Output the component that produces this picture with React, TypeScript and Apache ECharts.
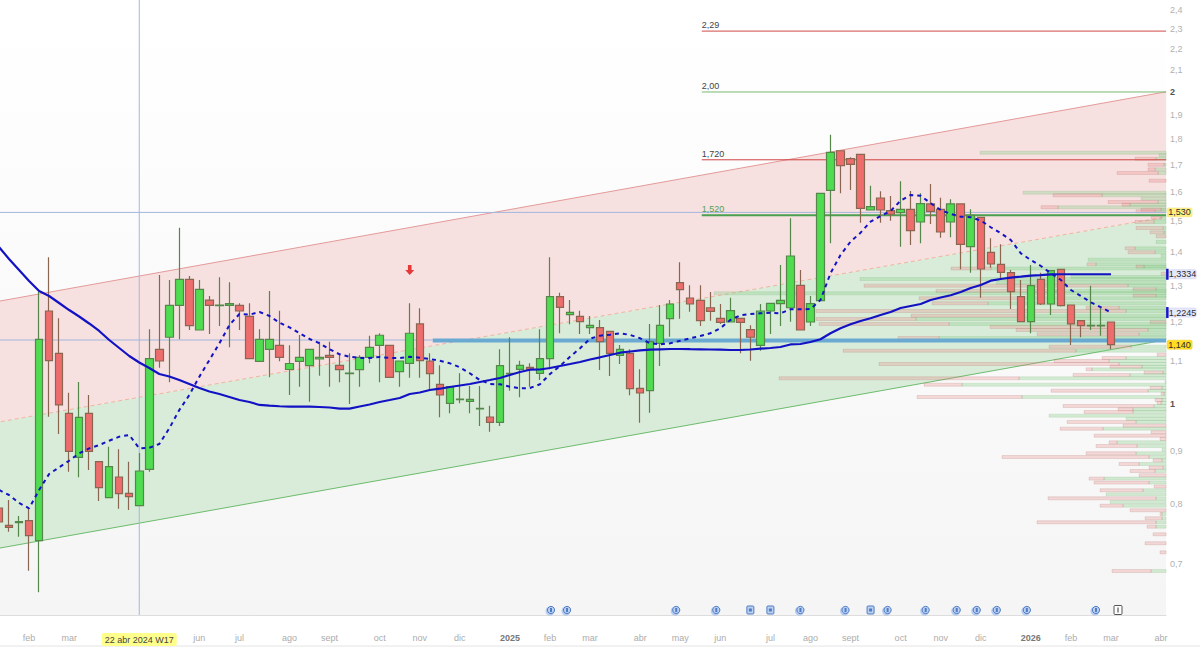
import React, { useEffect, useRef } from "react";
import * as echarts from "echarts";

const FONT = '"Liberation Sans", Arial, sans-serif';

// weekly sessions, Monday dates, starting 15 Jan 2024
const firstWeek = Date.UTC(2024, 0, 15);
const weekCount = 117;
const categories = Array.from({ length: weekCount }, (_, i) =>
  new Date(firstWeek + i * 7 * 86400000).toISOString().slice(0, 10)
);

const xTickIndex = [3, 7, 14, 20, 24, 29, 33, 38, 42, 46, 51, 55, 59, 64, 68, 72, 77, 81, 85, 90, 94, 98, 103, 107, 111, 116];
const xTickText = ["feb", "mar", "22 abr 2024 W17", "jun", "jul", "ago", "sept", "oct", "nov", "dic", "2025", "feb", "mar", "abr", "may", "jun", "jul", "ago", "sept", "oct", "nov", "dic", "2026", "feb", "mar", "abr"];

const yTicks = [2.4, 2.3, 2.2, 2.1, 2, 1.9, 1.8, 1.7, 1.6, 1.5, 1.4, 1.3, 1.2, 1.1, 1, 0.9, 0.8, 0.7];

// [open, close, low, high]
const candles = [
  [0.7928, 0.7685, 0.7549, 0.8161], [0.7629, 0.7595, 0.7521, 0.807], [0.7673, 0.769, 0.7438, 0.7789], [0.7707, 0.7454, 0.6895, 0.7928],
  [0.7372, 1.1538, 0.6572, 1.2827], [1.2287, 1.1001, 0.9714, 1.3846], [1.1184, 0.997, 0.9347, 1.209], [0.9787, 0.8993, 0.8595, 1.0246],
  [0.8874, 0.97, 0.8488, 1.0493], [0.9787, 0.8993, 0.8627, 1.0194], [0.8788, 0.8295, 0.8052, 0.8788], [0.8112, 0.8691, 0.8112, 0.9086],
  [0.8494, 0.8185, 0.7916, 0.9033], [0.8192, 0.813, 0.7893, 0.8788], [0.7969, 0.8608, 0.7969, 0.896], [0.864, 1.105, 0.8595, 1.1798],
  [1.1284, 1.0994, 1.0832, 1.3312], [1.159, 1.2444, 1.0486, 1.3164], [1.2444, 1.3185, 1.1538, 1.4789], [1.3185, 1.1893, 1.1779, 1.3282],
  [1.1779, 1.2895, 1.1779, 1.3164], [1.2591, 1.2444, 1.1675, 1.2705], [1.2434, 1.2453, 1.1885, 1.3244], [1.2444, 1.2488, 1.1335, 1.3098],
  [1.2444, 1.2287, 1.1779, 1.25], [1.2144, 1.105, 1.105, 1.25], [1.0987, 1.1538, 1.0987, 1.1798], [1.1284, 1.1538, 1.0603, 1.2847],
  [1.1385, 1.1085, 1.0987, 1.2295], [1.0788, 1.0933, 1.0194, 1.1385], [1.0987, 1.1085, 1.0384, 1.165], [1.088, 1.1284, 1.0042, 1.1284],
  [1.1043, 1.1085, 1.0641, 1.1477], [1.1134, 1.1085, 1.0384, 1.1477], [1.089, 1.0783, 1.0486, 1.1142], [1.0688, 1.0705, 0.9992, 1.1184],
  [1.0783, 1.1085, 1.0384, 1.1135], [1.1085, 1.1335, 1.0938, 1.1632], [1.1385, 1.1642, 1.0486, 1.1694], [1.1385, 1.0603, 1.0603, 1.1385],
  [1.0736, 1.0994, 1.0384, 1.0994], [1.0938, 1.1694, 1.0594, 1.25], [1.1938, 1.1001, 1.0594, 1.2361], [1.0994, 1.0688, 1.0307, 1.1184],
  [1.0439, 1.0194, 0.97, 1.089], [1.0007, 1.0384, 0.9787, 1.0384], [1.0087, 1.0103, 1.0007, 1.0698], [1.0051, 1.0096, 0.9787, 1.04],
  [0.9881, 0.9897, 0.9515, 1.04], [0.9707, 0.9593, 0.9395, 0.9954], [0.9593, 1.088, 0.9515, 1.1284], [1.0681, 1.0698, 1.0291, 1.159],
  [1.0793, 1.089, 1.0141, 1.1001], [1.0841, 1.0793, 1.0384, 1.0938], [1.0698, 1.105, 1.0539, 1.1798], [1.105, 1.2685, 1.0793, 1.3846],
  [1.2685, 1.2389, 1.1694, 1.2798], [1.2187, 1.2252, 1.193, 1.2591], [1.2144, 1.1999, 1.1675, 1.2295], [1.184, 1.1903, 1.1675, 1.2152],
  [1.184, 1.1477, 1.0776, 1.2044], [1.1745, 1.1184, 1.0634, 1.1745], [1.1134, 1.1284, 1.0921, 1.1393], [1.1184, 1.0337, 1.0186, 1.1284],
  [1.0346, 1.0239, 0.9585, 1.0793], [1.0291, 1.1477, 0.98, 1.1938], [1.1436, 1.1903, 1.0873, 1.2453], [1.2079, 1.248, 1.1605, 1.2591],
  [1.3086, 1.2884, 1.2079, 1.3693], [1.2648, 1.248, 1.2268, 1.3011], [1.2583, 1.2025, 1.1885, 1.3011], [1.2377, 1.2279, 1.2025, 1.2818],
  [1.209, 1.1983, 1.1938, 1.248], [1.1991, 1.2295, 1.1991, 1.2657], [1.209, 1.1983, 1.1184, 1.209], [1.1787, 1.159, 1.1001, 1.1903],
  [1.1385, 1.2287, 1.1249, 1.248], [1.2287, 1.25, 1.1675, 1.25], [1.2488, 1.2583, 1.1885, 1.3612], [1.2377, 1.3887, 1.1999, 1.5101],
  [1.3011, 1.1779, 1.1779, 1.346], [1.1991, 1.2488, 1.1885, 1.2705], [1.2572, 1.5965, 1.2572, 1.5965], [1.6071, 1.7488, 1.4284, 1.8187],
  [1.755, 1.6976, 1.5965, 1.755], [1.7241, 1.7028, 1.6082, 1.7295], [1.7411, 1.5441, 1.4955, 1.7411], [1.5382, 1.5496, 1.5382, 1.6237],
  [1.5799, 1.5382, 1.4955, 1.6036], [1.5358, 1.5237, 1.5021, 1.587], [1.5291, 1.5406, 1.4176, 1.6396], [1.5406, 1.469, 1.423, 1.6047],
  [1.4978, 1.56, 1.4284, 1.5965], [1.559, 1.5338, 1.4912, 1.6299], [1.5406, 1.4648, 1.4463, 1.5809], [1.4978, 1.559, 1.4476, 1.5753],
  [1.559, 1.4253, 1.3481, 1.559], [1.4176, 1.5203, 1.338, 1.5406], [1.5135, 1.349, 1.2656, 1.5135], [1.4, 1.3642, 1.353, 1.4444],
  [1.3633, 1.3392, 1.3214, 1.4253], [1.338, 1.2827, 1.2342, 1.346], [1.2685, 1.1999, 1.1999, 1.3164], [1.1999, 1.3, 1.1694, 1.3612],
  [1.3185, 1.248, 1.2453, 1.338], [1.248, 1.3439, 1.2179, 1.3439], [1.3481, 1.2434, 1.2411, 1.3481], [1.2453, 1.1938, 1.1393, 1.2453],
  [1.2025, 1.1893, 1.159, 1.2025], [1.189, 1.1903, 1.1779, 1.3], [1.189, 1.1903, 1.1632, 1.2361], [1.1991, 1.14, 1.1284, 1.1991],
];

const slowAverage = [
  1.4167, 1.3794, 1.346, 1.3135, 1.2847, 1.2705, 1.2508, 1.2314, 1.2138, 1.1951, 1.1753, 1.152, 1.1317, 1.1117, 1.0957, 1.0824,
  1.0681, 1.0622, 1.0539, 1.0446, 1.0353, 1.0273, 1.0216, 1.0148, 1.008, 1.0036, 0.997, 0.9954, 0.9941, 0.9932, 0.9932, 0.9932,
  0.9925, 0.9914, 0.9888, 0.9888, 0.9936, 0.998, 1.0036, 1.008, 1.0125, 1.0216, 1.025, 1.0307, 1.0337, 1.0377, 1.0411, 1.0446,
  1.0493, 1.0539, 1.0586, 1.0658, 1.0728, 1.0783, 1.0788, 1.0824, 1.0873, 1.0921, 1.097, 1.103, 1.1085, 1.1142, 1.1199, 1.1229,
  1.1259, 1.1274, 1.1284, 1.1291, 1.1291, 1.1286, 1.1284, 1.1279, 1.1274, 1.1266, 1.1266, 1.1279, 1.1299, 1.1317, 1.1342, 1.1406,
  1.1418, 1.1469, 1.1538, 1.1694, 1.1824, 1.193, 1.2018, 1.209, 1.2179, 1.226, 1.2369, 1.2425, 1.248, 1.2591, 1.2662, 1.2725,
  1.2818, 1.2933, 1.302, 1.3144, 1.3194, 1.3233, 1.3263, 1.3294, 1.3306, 1.333, 1.3334, 1.3334, 1.3334, 1.3334, 1.3334, 1.3334,
];

const fastAverage = [
  0.8252, 0.8161, 0.8017, 0.7923, 0.8252, 0.8551, 0.8679, 0.8807, 0.8954, 0.9053, 0.912, 0.9208, 0.9291, 0.9326, 0.9053, 0.9065,
  0.9141, 0.9466, 0.9859, 1.0194, 1.0617, 1.1018, 1.1436, 1.1911, 1.2206, 1.2187, 1.226, 1.2152, 1.1972, 1.185, 1.1694, 1.1546,
  1.1436, 1.1284, 1.1159, 1.11, 1.1068, 1.1068, 1.1092, 1.1068, 1.1068, 1.11, 1.1075, 1.1043, 1.1001, 1.0938, 1.0841, 1.0698,
  1.0539, 1.0446, 1.0439, 1.0384, 1.0346, 1.0353, 1.0439, 1.0681, 1.0873, 1.11, 1.1309, 1.1553, 1.1632, 1.1658, 1.1694, 1.165,
  1.1564, 1.1436, 1.141, 1.1436, 1.1502, 1.1564, 1.1624, 1.1694, 1.1824, 1.2044, 1.2171, 1.2206, 1.2225, 1.2241, 1.2225, 1.2333,
  1.2333, 1.2342, 1.2591, 1.3362, 1.3917, 1.4335, 1.4625, 1.4988, 1.5179, 1.5348, 1.5704, 1.5905, 1.588, 1.5614, 1.5382, 1.5247,
  1.5156, 1.5135, 1.5028, 1.4803, 1.4608, 1.4389, 1.3969, 1.3763, 1.3581, 1.3362, 1.3164, 1.2875, 1.2705, 1.2527, 1.2389, 1.2245,
];

// regression channel, values at the two ends of the time range
const channelWeeks = [0, 116];
const channelTop = [1.2558, 1.9968];
const channelMid = [0.96, 1.5122];
const channelBottom = [0.725, 1.1502];

const levelPrices = [2.29, 2, 1.72, 1.52];
const levelTexts = ["2,29", "2,00", "1,720", "1,520"];
const levelStart = 70;
const supportPrice = 1.1507;
const supportStart = 43;
const cursorPrices = [1.53, 1.152];
const cursorWeek = 14;

const tagPrices = [1.53, 1.3334, 1.2245, 1.14];
const tagTexts = ["1,530", "1,3334", "1,2245", "1,140"];

// volume at price: price, sell part, buy part
const profilePrices = [
  1.7473, 1.7373, 1.7241, 1.7011, 1.6839, 1.6702, 1.6418, 1.5986, 1.5894, 1.5774, 1.5659, 1.5566, 1.5477, 1.5392, 1.5338, 1.5112,
  1.4978, 1.4779, 1.4638, 1.4509, 1.4326, 1.4126, 1.4001, 1.3887, 1.3772, 1.3633, 1.3562, 1.3505, 1.335, 1.3253, 1.3194, 1.3086,
  1.3, 1.2895, 1.2847, 1.2781, 1.2713, 1.264, 1.25, 1.2377, 1.2287, 1.216, 1.2071, 1.1983, 1.1938, 1.1859, 1.1779, 1.1668,
  1.1572, 1.135, 1.1249, 1.115, 1.1068, 1.0994, 1.0921, 1.0856, 1.0793, 1.0713, 1.0658, 1.0579, 1.05, 1.043, 1.0353, 1.0291,
  1.0223, 1.0148, 1.008, 1.0013, 0.9947, 0.9874, 0.9816, 0.9735, 0.9664, 0.96, 0.9521, 0.9458, 0.9382, 0.9312, 0.9243, 0.9175,
  0.91, 0.9025, 0.8954, 0.888, 0.8815, 0.8743, 0.8672, 0.8608, 0.8527, 0.8464, 0.8389, 0.8315, 0.8247, 0.8174, 0.8101, 0.8034,
  0.7969, 0.7888, 0.7823, 0.7749, 0.768, 0.7605, 0.7478, 0.733, 0.7184, 0.6891,
];
const profileSell = [
  0, 0, 21, 16, 7, 41, 17, 0, 49, 0, 50, 8, 17, 20, 19, 10,
  19, 27, 14, 10, 0, 10, 27, 0, 0, 9, 8, 40, 5, 0, 0, 0,
  264, 23, 120, 0, 23, 100, 56, 33, 310, 110, 100, 16, 130, 120, 132, 102,
  41, 82, 233, 9, 24, 55, 240, 32, 6, 19, 57, 240, 0, 38, 12, 97,
  3, 105, 7, 4, 91, 15, 49, 0, 0, 69, 43, 43, 15, 72, 6, 8,
  41, 0, 50, 147, 9, 20, 14, 25, 27, 15, 55, 12, 43, 0, 108, 0,
  23, 36, 2, 17, 119, 9, 13, 21, 6, 39,
];
const profileBuy = [
  186, 7, 10, 2, 11, 8, 0, 143, 64, 25, 8, 36, 108, 5, 11, 5,
  12, 3, 2, 0, 10, 31, 11, 5, 78, 70, 22, 175, 0, 95, 306, 170,
  38, 10, 110, 452, 10, 147, 178, 47, 40, 145, 250, 0, 217, 56, 18, 27,
  227, 35, 90, 0, 40, 57, 47, 24, 74, 3, 36, 147, 1, 204, 4, 18,
  2, 144, 4, 5, 12, 33, 33, 117, 40, 30, 0, 63, 0, 0, 0, 49,
  29, 4, 30, 17, 4, 27, 3, 11, 0, 62, 17, 0, 23, 60, 10, 56,
  43, 0, 4, 4, 10, 10, 0, 0, 0, 15,
];

const eventWeeks = [55.1, 56.7, 67.6, 71.6, 75, 77, 80, 84.5, 87, 88.7, 92.5, 95.6, 97.6, 99.6, 102.6, 109.5];
const squareEvents = [75, 77, 87];
const infoWeek = 111.7;
const eventPrice = 0.6319;
const arrowWeek = 41;
const arrowPrice = 1.346;

const yMin = 0.6249;
const yMax = 2.454;
const gridLeft = -6;
const gridWidth = 1172.1;

function extrapolated(api: any, params: any, values: number[]) {
  const a = api.coord([channelWeeks[0], values[0]]);
  const b = api.coord([channelWeeks[1], values[1]]);
  const slope = (b[1] - a[1]) / (b[0] - a[0]);
  const l = params.coordSys.x;
  const r = l + params.coordSys.width;
  return [
    [l, a[1] + (l - a[0]) * slope],
    [r, a[1] + (r - a[0]) * slope],
  ];
}

export default function App() {
  const ref = useRef<HTMLDivElement>(null);

  useEffect(() => {
    document.body.style.margin = "0";
    const chart = echarts.init(ref.current!, null, { renderer: "svg" });

    const channelSeries = {
      type: "custom",
      z: 1,
      silent: true,
      xAxisIndex: 0,
      yAxisIndex: 0,
      data: [[channelWeeks[0], channelMid[0]]],
      renderItem: (params: any, api: any) => {
        const t = extrapolated(api, params, channelTop);
        const m = extrapolated(api, params, channelMid);
        const b = extrapolated(api, params, channelBottom);
        const seg = (p: number[][], stroke: string, dash?: number[]) => ({
          type: "line",
          shape: { x1: p[0][0], y1: p[0][1], x2: p[1][0], y2: p[1][1] },
          style: { stroke, lineWidth: 1, lineDash: dash },
        });
        return {
          type: "group",
          children: [
            { type: "polygon", shape: { points: [t[0], t[1], m[1], m[0]] }, style: { fill: "#f7e0e0" } },
            { type: "polygon", shape: { points: [m[0], m[1], b[1], b[0]] }, style: { fill: "#d9ecd9" } },
            seg(t, "#e49a9a"),
            seg(m, "#f2b3a0", [4, 3]),
            seg(b, "#6dbb6d"),
          ],
        };
      },
    };

    const profileSeries = {
      type: "custom",
      z: 2,
      silent: true,
      xAxisIndex: 1,
      yAxisIndex: 0,
      data: profilePrices.map((p, i) => [profileSell[i] + profileBuy[i], p]),
      renderItem: (params: any, api: any) => {
        const i = params.dataIndex;
        const p = profilePrices[i];
        const r0 = api.coord([0, p]);
        const r1 = api.coord([profileBuy[i], p]);
        const r2 = api.coord([profileBuy[i] + profileSell[i], p]);
        const h = 3;
        const y = r0[1] - h / 2;
        const children: any[] = [];
        if (profileBuy[i] > 0)
          children.push({
            type: "rect",
            shape: { x: r1[0], y, width: r0[0] - r1[0], height: h },
            style: { fill: "rgba(130,205,130,0.32)", stroke: "rgba(110,170,110,0.35)", lineWidth: 0.5 },
          });
        if (profileSell[i] > 0)
          children.push({
            type: "rect",
            shape: { x: r2[0], y, width: r1[0] - r2[0], height: h },
            style: { fill: "rgba(232,130,130,0.28)", stroke: "rgba(170,110,100,0.4)", lineWidth: 0.5 },
          });
        return { type: "group", children };
      },
    };

    const cursorSeries = {
      type: "custom",
      z: 3,
      silent: true,
      data: cursorPrices.map((p) => [cursorWeek, p]),
      renderItem: (params: any, api: any) => {
        const c = api.coord([cursorWeek, cursorPrices[params.dataIndex]]);
        const cs = params.coordSys;
        const style = { stroke: "#a3b6df", lineWidth: 1 };
        const children: any[] = [
          { type: "line", shape: { x1: cs.x, y1: c[1], x2: cs.x + cs.width, y2: c[1] }, style },
        ];
        if (params.dataIndex === 0)
          children.push({ type: "line", shape: { x1: c[0], y1: cs.y, x2: c[0], y2: cs.y + cs.height }, style });
        return { type: "group", children };
      },
    };

    const supportSeries = {
      type: "custom",
      z: 3,
      silent: true,
      data: [[supportStart, supportPrice]],
      renderItem: (params: any, api: any) => {
        const c = api.coord([supportStart, supportPrice]);
        const cs = params.coordSys;
        return {
          type: "line",
          shape: { x1: c[0] + 3, y1: c[1], x2: cs.x + cs.width, y2: c[1] },
          style: { stroke: "#6aa9d2", lineWidth: 4 },
        };
      },
    };

    const levelColors = ["#d04a48", "#7cba6e", "#d04040", "#4aa050"];
    const levelWidths = [1, 1, 1, 2];
    const levelInk = ["#444444", "#444444", "#444444", "#55a04f"];
    const levelSeries = {
      type: "custom",
      z: 4,
      silent: true,
      data: levelPrices.map((p) => [levelStart, p]),
      renderItem: (params: any, api: any) => {
        const i = params.dataIndex;
        const c = api.coord([levelStart, levelPrices[i]]);
        const cs = params.coordSys;
        return {
          type: "group",
          children: [
            {
              type: "line",
              shape: { x1: c[0] + 1.5, y1: c[1], x2: cs.x + cs.width, y2: c[1] },
              style: { stroke: levelColors[i], lineWidth: levelWidths[i] },
            },
            {
              type: "text",
              x: c[0] + 1.5,
              y: c[1] - 6,
              style: { text: levelTexts[i], fill: levelInk[i], font: `9px ${FONT}`, align: "left", verticalAlign: "middle" },
            },
          ],
        };
      },
    };

    const yLabelSeries = {
      type: "custom",
      z: 6,
      silent: true,
      data: yTicks.map((v) => [0, v]),
      renderItem: (params: any, api: any) => {
        const v = yTicks[params.dataIndex];
        const c = api.coord([0, v]);
        const cs = params.coordSys;
        const whole = v === 1 || v === 2;
        return {
          type: "text",
          x: cs.x + cs.width + 4,
          y: c[1],
          style: {
            text: String(v).replace(".", ","),
            fill: whole ? "#555555" : "#b0b0b0",
            font: `${whole ? "bold " : ""}9px ${FONT}`,
            align: "left",
            verticalAlign: "middle",
          },
        };
      },
    };

    const tagFill = ["#fff07e", "#e6e9fb", "#e6e9fb", "#ffdd1f"];
    const tagStroke = ["#f0e8a0", "#c9cdf0", "#c9cdf0", "#f0cc30"];
    const tagMarker = [false, true, true, false];
    const tagSeries = {
      type: "custom",
      z: 8,
      silent: true,
      data: tagPrices.map((p) => [0, p]),
      renderItem: (params: any, api: any) => {
        const i = params.dataIndex;
        const c = api.coord([0, tagPrices[i]]);
        const cs = params.coordSys;
        const x0 = cs.x + cs.width;
        const w = tagMarker[i] ? 27 : 25;
        const bx = tagMarker[i] ? x0 + 3 : x0 + 1;
        const children: any[] = [
          {
            type: "rect",
            shape: { x: bx, y: c[1] - 4.5, width: w, height: 9, r: 1.5 },
            style: { fill: tagFill[i], stroke: tagStroke[i], lineWidth: 0.6 },
          },
          {
            type: "text",
            x: bx + w / 2,
            y: c[1],
            style: { text: tagTexts[i], fill: "#2b2b35", font: `9px ${FONT}`, align: "center", verticalAlign: "middle" },
          },
        ];
        if (tagMarker[i])
          children.push({
            type: "rect",
            shape: { x: x0, y: c[1] - 5.5, width: 2.5, height: 11 },
            style: { fill: "#1414c8" },
          });
        return { type: "group", children };
      },
    };

    const eventSeries = {
      type: "custom",
      z: 7,
      silent: true,
      data: [...eventWeeks, infoWeek].map((w) => [Math.floor(w), eventPrice]),
      renderItem: (params: any, api: any) => {
        const i = params.dataIndex;
        const w = i < eventWeeks.length ? eventWeeks[i] : infoWeek;
        const base = api.coord([Math.floor(w), eventPrice]);
        const x = base[0] + (w - Math.floor(w)) * api.size([1, 0])[0];
        const y = base[1];
        if (i === eventWeeks.length) {
          return {
            type: "group",
            children: [
              {
                type: "rect",
                shape: { x: x - 4, y: y - 4.5, width: 8, height: 9, r: 1 },
                style: { fill: "#ffffff", stroke: "#555555", lineWidth: 1 },
              },
              {
                type: "rect",
                shape: { x: x - 0.5, y: y - 2.5, width: 1, height: 5 },
                style: { fill: "#333333" },
              },
            ],
          };
        }
        const square = squareEvents.includes(w);
        return {
          type: "group",
          children: square
            ? [
                {
                  type: "rect",
                  shape: { x: x - 3.5, y: y - 4, width: 7, height: 8, r: 1 },
                  style: { fill: "#bcd0f2", stroke: "#4f7cc4", lineWidth: 1 },
                },
                { type: "rect", shape: { x: x - 1.5, y: y - 1.5, width: 3, height: 3 }, style: { fill: "#4f7cc4" } },
              ]
            : [
                { type: "circle", shape: { cx: x - 1, cy: y + 1, r: 4.5 }, style: { fill: "rgba(130,170,235,0.55)" } },
                { type: "circle", shape: { cx: x, cy: y, r: 3.6 }, style: { fill: "#bcd0f2", stroke: "#4f7cc4", lineWidth: 1 } },
                { type: "rect", shape: { x: x - 1, y: y - 2, width: 2, height: 4 }, style: { fill: "#4f7cc4" } },
              ],
        };
      },
    };

    chart.setOption({
      animation: false,
      backgroundColor: "#ffffff",
      textStyle: { fontFamily: FONT },
      grid: {
        left: gridLeft,
        top: 0,
        width: gridWidth,
        height: 615,
        outerBoundsMode: "none",
        containLabel: false,
        show: true,
        borderWidth: 0,
        backgroundColor: new echarts.graphic.LinearGradient(0, 0, 0, 1, [
          { offset: 0, color: "#ffffff" },
          { offset: 1, color: "#f5f5f5" },
        ]),
      },
      xAxis: [
        {
          type: "category",
          data: categories,
          boundaryGap: true,
          axisLine: { show: true, lineStyle: { color: "#dddddd", width: 1 } },
          axisTick: { show: false },
          splitLine: { show: false },
          axisLabel: {
            margin: 18,
            fontSize: 9,
            color: "#acacac",
            fontFamily: FONT,
            interval: (index: number) => xTickIndex.includes(index),
            formatter: (_: string, index: number) => {
              const t = xTickText[xTickIndex.indexOf(index)] ?? "";
              if (t.includes("W17")) return `{hl|${t}}`;
              if (/^\d{4}$/.test(t)) return `{yr|${t}}`;
              return t;
            },
            rich: {
              hl: { backgroundColor: "#ffff8c", color: "#444444", fontSize: 9, padding: [2, 3, 2, 3], borderRadius: 2, fontFamily: FONT },
              yr: { color: "#777777", fontSize: 9, fontWeight: "bold", fontFamily: FONT },
            },
          },
        },
        { type: "value", inverse: true, min: 0, max: gridWidth, show: false, position: "top" },
      ],
      yAxis: [
        {
          type: "log",
          logBase: 10,
          min: yMin,
          max: yMax,
          position: "right",
          axisLine: { show: false },
          axisTick: { show: false },
          axisLabel: { show: false },
          splitLine: { show: false },
          minorTick: { show: false },
          minorSplitLine: { show: false },
        },
      ],
      series: [
        channelSeries,
        profileSeries,
        cursorSeries,
        supportSeries,
        levelSeries,
        {
          type: "candlestick",
          z: 5,
          silent: true,
          barWidth: 8,
          data: candles,
          itemStyle: {
            color: "#4fdc50",
            color0: "#ee6c6c",
            borderColor: "#55874a",
            borderColor0: "#8a6650",
            borderWidth: 1.2,
          },
        },
        {
          type: "line",
          name: "slow",
          z: 6,
          silent: true,
          data: slowAverage,
          showSymbol: false,
          symbol: "none",
          lineStyle: { color: "#1212c4", width: 2.2 },
        },
        {
          type: "line",
          name: "fast",
          z: 6,
          silent: true,
          data: fastAverage,
          showSymbol: false,
          symbol: "none",
          lineStyle: { color: "#1212c4", width: 2, type: [4, 4] },
        },
        {
          type: "scatter",
          z: 7,
          silent: true,
          data: [[arrowWeek, arrowPrice]],
          symbol: "path://M3,0 L7,0 L7,5 L10,5 L5,10 L0,5 L3,5 Z",
          symbolSize: [9, 10],
          itemStyle: { color: "#e00f0f" },
        },
        yLabelSeries,
        eventSeries,
        tagSeries,
      ],
      graphic: [
        {
          type: "line",
          shape: { x1: 0, y1: 646, x2: 1200, y2: 646 },
          style: { stroke: "#e4e4e4", lineWidth: 1 },
        },
      ],
    });
    return () => chart.dispose();
  }, []);

  return <div ref={ref} style={{ position: "fixed", left: 0, top: 0, width: 1200, height: 649 }} />;
}
